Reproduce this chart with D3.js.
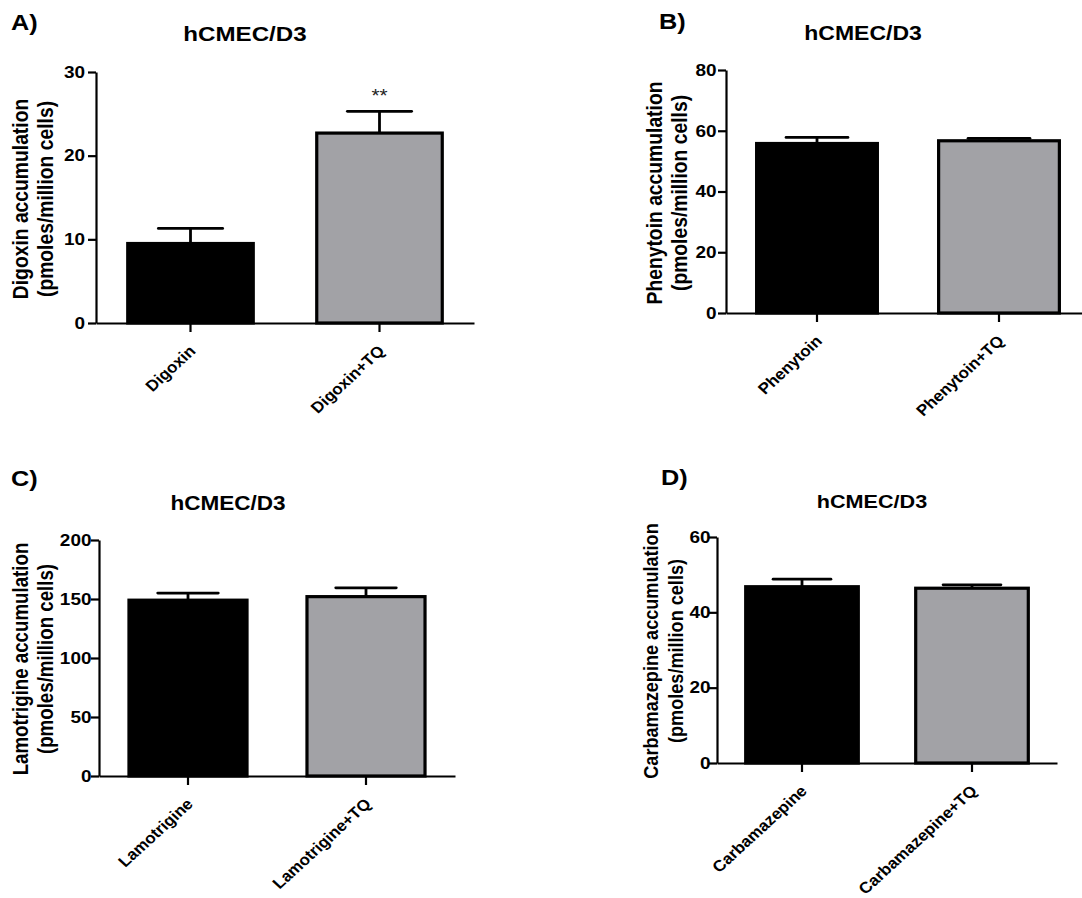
<!DOCTYPE html>
<html>
<head>
<meta charset="utf-8">
<script src="https://cdn.jsdelivr.net/npm/d3@7"></script>
<style>
  html, body { margin: 0; padding: 0; background: #fff; }
  svg { display: block; font-family: "Liberation Sans", Arial, sans-serif; }
</style>
</head>
<body>
<svg id="chart" width="1082" height="898"></svg>
<script>
// ---------- DATA ----------
const panelLetters = ["A)", "B)", "C)", "D)"];
const panelTitle = "hCMEC/D3";

const categoriesA = ["Digoxin", "Digoxin+TQ"];
const meansA = [9.5, 22.7];
const semA = [1.8, 2.6];
const ticksA = [0, 10, 20, 30];
const yLabelA = ["Digoxin accumulation", "(pmoles/million cells)"];
const signifA = ["", "**"];

const categoriesB = ["Phenytoin", "Phenytoin+TQ"];
const meansB = [55.8, 56.7];
const semB = [2.0, 0.8];
const ticksB = [0, 20, 40, 60, 80];
const yLabelB = ["Phenytoin accumulation", "(pmoles/million cells)"];
const signifB = ["", ""];

const categoriesC = ["Lamotrigine", "Lamotrigine+TQ"];
const meansC = [149, 152];
const semC = [6, 7.5];
const ticksC = [0, 50, 100, 150, 200];
const yLabelC = ["Lamotrigine accumulation", "(pmoles/million cells)"];
const signifC = ["", ""];

const categoriesD = ["Carbamazepine", "Carbamazepine+TQ"];
const meansD = [46.8, 46.4];
const semD = [2.0, 0.9];
const ticksD = [0, 20, 40, 60];
const yLabelD = ["Carbamazepine accumulation", "(pmoles/million cells)"];
const signifD = ["", ""];

const barColors = ["#000000", "#a2a2a6"];

// ---------- LAYOUT ----------
const S = 1.15;   // horizontal stretch of upright text in the reference
const SX = 1.09;  // stretch used for the slanted category labels
const FONT = "Liberation Sans, Arial, sans-serif";
const svg = d3.select("#chart");

const layouts = [
  { axisX: 96,  xEnd: 474,  y0: 323, yTop: 72,  letter: [11, 30],   title: [245, 41],  titleSize: 21,   yl: [28, 53, 199],  ylSize: 19.3, tickGap: 11 },
  { axisX: 726, xEnd: 1090, y0: 313, yTop: 70,  letter: [659, 29],  title: [863, 40],  titleSize: 20,   yl: [662, 687, 193], ylSize: 19.3, tickGap: 9.5 },
  { axisX: 99,  xEnd: 455,  y0: 776, yTop: 540, letter: [11, 486],  title: [228, 510], titleSize: 19.6, yl: [28, 53, 659],  ylSize: 18.7, tickGap: 7.5 },
  { axisX: 717, xEnd: 1057, y0: 763, yTop: 537, letter: [661, 485], title: [872, 508], titleSize: 18.8, yl: [658, 683, 651], ylSize: 18.1, tickGap: 6.5 }
];

const panels = [
  { cats: categoriesA, means: meansA, sem: semA, ticks: ticksA, ylab: yLabelA, sig: signifA },
  { cats: categoriesB, means: meansB, sem: semB, ticks: ticksB, ylab: yLabelB, sig: signifB },
  { cats: categoriesC, means: meansC, sem: semC, ticks: ticksC, ylab: yLabelC, sig: signifC },
  { cats: categoriesD, means: meansD, sem: semD, ticks: ticksD, ylab: yLabelD, sig: signifD }
];

panels.forEach((p, i) => {
  const L = layouts[i];
  const g = svg.append("g");

  const y = d3.scaleLinear()
    .domain([0, d3.max(p.ticks)])
    .range([L.y0, L.yTop]);

  const x = d3.scaleBand()
    .domain(p.cats)
    .range([L.axisX, L.xEnd])
    .paddingInner(0.32)
    .paddingOuter(0.16);

  // bars
  const bw = x.bandwidth();
  g.selectAll("rect.bar").data(p.cats).enter().append("rect")
    .attr("class", "bar")
    .attr("x", d => x(d) + 1.5)
    .attr("width", bw - 3)
    .attr("y", (d, j) => y(p.means[j]))
    .attr("height", (d, j) => y(0) - y(p.means[j]))
    .attr("fill", (d, j) => barColors[j])
    .attr("stroke", "#000")
    .attr("stroke-width", 3.2);

  // error bars (upper only)
  p.cats.forEach((c, j) => {
    const cx = x(c) + bw / 2;
    const top = y(p.means[j] + p.sem[j]);
    g.append("line")
      .attr("x1", cx).attr("x2", cx)
      .attr("y1", y(p.means[j])).attr("y2", top)
      .attr("stroke", "#000").attr("stroke-width", 2.8);
    g.append("line")
      .attr("x1", cx - bw / 4).attr("x2", cx + bw / 4)
      .attr("y1", top).attr("y2", top)
      .attr("stroke", "#000").attr("stroke-width", 2.8)
      .attr("stroke-linecap", "round");
    if (p.sig[j]) {
      g.append("text")
        .attr("transform", `translate(${cx},${top - 9}) scale(${S},1)`)
        .attr("text-anchor", "middle")
        .attr("font-size", 18)
        .attr("fill", "#222")
        .text(p.sig[j]);
    }
  });

  // y axis
  const yAxis = g.append("g")
    .attr("transform", `translate(${L.axisX},0)`)
    .call(d3.axisLeft(y).tickValues(p.ticks).tickSize(8).tickSizeOuter(0));
  yAxis.select(".domain").attr("stroke-width", 2.2);
  yAxis.selectAll(".tick line").attr("stroke-width", 2.2);
  yAxis.selectAll(".tick text")
    .attr("x", -L.tickGap / S)
    .attr("transform", `scale(${S},1)`)
    .attr("font-size", 16.5)
    .attr("font-weight", "bold")
    .attr("font-family", FONT)
    .attr("fill", "#000");

  // x axis
  const xAxis = g.append("g")
    .attr("transform", `translate(0,${L.y0})`)
    .call(d3.axisBottom(x).tickSize(9).tickSizeOuter(0));
  xAxis.select(".domain").attr("stroke-width", 2.2);
  xAxis.selectAll(".tick line").attr("stroke-width", 2.2);
  xAxis.selectAll(".tick text").remove();
  xAxis.selectAll(".tick").append("text")
    .attr("transform", `translate(6,29) scale(${SX},1) rotate(-45)`)
    .attr("text-anchor", "end")
    .attr("font-size", 15.6)
    .attr("font-weight", "bold")
    .attr("font-family", FONT)
    .attr("fill", "#000")
    .text(d => d);

  // y axis title (two lines)
  p.ylab.forEach((t, k) => {
    g.append("text")
      .attr("transform", `translate(${L.yl[k]},${L.yl[2]}) scale(${S},1) rotate(-90)`)
      .attr("text-anchor", "middle")
      .attr("font-size", L.ylSize)
      .attr("font-weight", "bold")
      .text(t);
  });

  // title
  g.append("text")
    .attr("transform", `translate(${L.title[0]},${L.title[1]}) scale(${S},1)`)
    .attr("text-anchor", "middle")
    .attr("font-size", L.titleSize)
    .attr("font-weight", "bold")
    .text(panelTitle);

  // panel letter
  g.append("text")
    .attr("transform", `translate(${L.letter[0]},${L.letter[1]}) scale(${S},1)`)
    .attr("font-size", 22)
    .attr("font-weight", "bold")
    .text(panelLetters[i]);
});
</script>
</body>
</html>
